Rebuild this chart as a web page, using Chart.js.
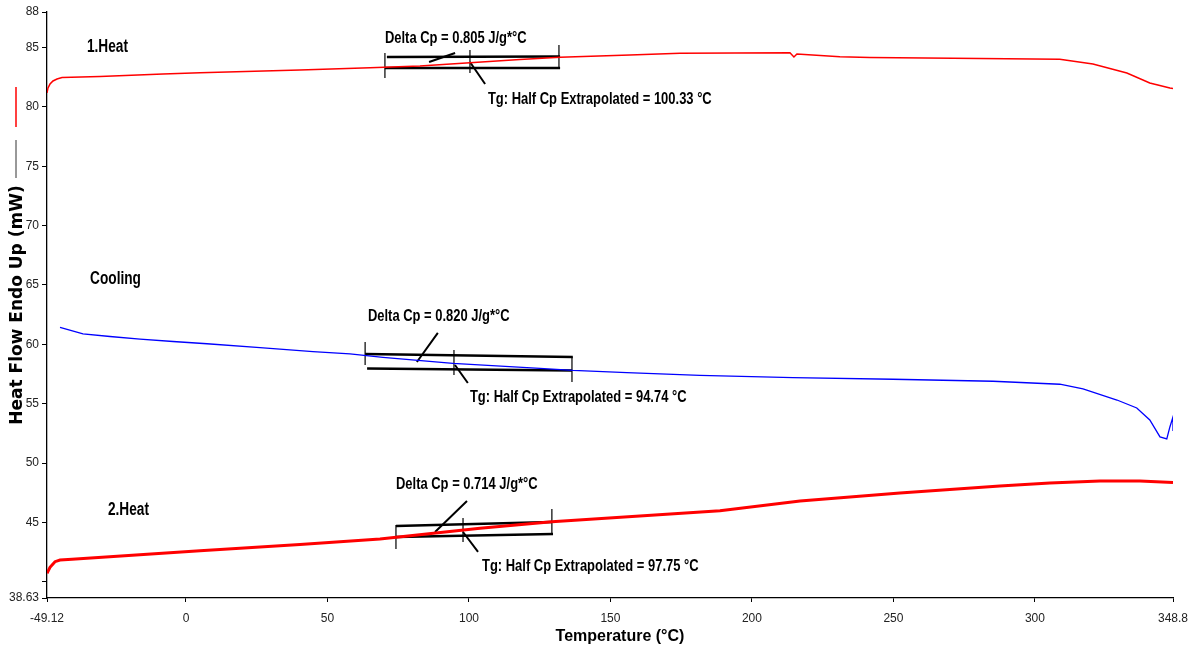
<!DOCTYPE html>
<html lang="en">
<head>
    <meta charset="UTF-8" />
    <script src="https://cdn.jsdelivr.net/npm/chart.js"></script>
    <title>DSC Heat Flow</title>
    <style>
        body { margin: 0; background: #fff; }
        canvas { display: block; }
    </style>
</head>
<body>
    <canvas id="dsc" width="1188" height="652"></canvas>

    <script>
        // temperature axis (°C) and heat flow axis (mW)
        const xMin = -49.12, xMax = 348.8;
        const yMin = 38.63, yMax = 88;
        const xTickVals = [-49.12, 0, 50, 100, 150, 200, 250, 300, 348.8];
        const yTickVals = [38.63, 40, 45, 50, 55, 60, 65, 70, 75, 80, 85, 88];

        // 1.Heat curve
        const heat1T = [-49.12, -48.76, -48.06, -47.0, -45.58, -43.82, -30.39, -8.13, 4.95, 40.28, 65.02, 82.69, 100.35, 118.02, 132.16, 156.89, 174.56, 213.43, 214.84, 215.9, 231.1, 241.7, 271.0, 308.8, 320.5, 332.5, 340.6, 347.7, 348.8];
        const heat1Y = [81.18, 81.60, 81.93, 82.19, 82.35, 82.48, 82.57, 82.78, 82.89, 83.11, 83.31, 83.45, 83.73, 84.00, 84.18, 84.38, 84.52, 84.57, 84.21, 84.46, 84.23, 84.17, 84.10, 84.02, 83.62, 82.86, 82.02, 81.60, 81.56];

        // Cooling curve
        const coolT = [-44.52, -36.4, -26.86, -16.25, -4.59, 7.42, 26.15, 44.88, 57.95, 69.61, 94.35, 125.1, 136.75, 155.8, 181.6, 214.5, 249.8, 285.2, 308.8, 317.0, 329.0, 336.0, 340.6, 344.2, 346.6, 347.7, 348.8, 348.8];
        const coolY = [61.44, 60.89, 60.66, 60.44, 60.24, 60.05, 59.72, 59.38, 59.19, 58.91, 58.40, 57.98, 57.80, 57.61, 57.39, 57.19, 57.06, 56.89, 56.64, 56.24, 55.31, 54.64, 53.63, 52.20, 52.03, 53.04, 53.88, 52.70];

        // 2.Heat curve
        const heat2T = [-49.12, -48.06, -46.29, -44.52, -40.28, 4.95, 40.28, 68.55, 103.9, 129.3, 188.7, 217.0, 252.3, 287.6, 305.3, 323.0, 337.1, 348.8];
        const heat2Y = [40.71, 41.22, 41.69, 41.83, 41.89, 42.62, 43.14, 43.60, 44.50, 45.06, 45.99, 46.80, 47.48, 48.07, 48.32, 48.49, 48.49, 48.36];

        // Tg construction lines [t1, v1, t2, v2]
        const baseLines = [
            [71.0, 84.21, 132.2, 84.25], [70.3, 83.28, 132.2, 83.28],
            [63.3, 59.19, 136.7, 58.94], [64.0, 57.97, 136.4, 57.80],
            [74.2, 44.70, 129.3, 45.03], [74.2, 43.77, 129.7, 44.02]
        ];
        const tickLines = [
            [70.3, 84.55, 70.3, 82.44], [131.8, 85.22, 131.8, 83.28], [100.35, 84.80, 100.35, 82.86],
            [63.3, 60.20, 63.3, 58.26], [136.4, 58.94, 136.4, 56.83], [94.7, 59.52, 94.7, 57.42],
            [74.2, 44.78, 74.2, 42.76], [129.3, 46.13, 129.3, 44.11], [97.9, 45.37, 97.9, 43.35]
        ];
        const pointerLines = [
            [85.9, 83.79, 95.1, 84.55], [100.35, 83.79, 105.7, 81.93],
            [81.6, 58.51, 89.0, 60.96], [95.05, 58.26, 99.6, 56.74],
            [88.0, 44.19, 99.3, 46.80], [97.9, 44.19, 103.2, 42.51]
        ];

        // texts placed in data units [t, v, text, size, squeeze]
        const notes = [
            [-35.0, 85.05, '1.Heat', 18, 0.76],
            [-33.9, 65.5, 'Cooling', 18, 0.76],
            [-27.6, 46.0, '2.Heat', 18, 0.76],
            [70.3, 85.8, 'Delta Cp = 0.805 J/g*°C', 16, 0.81],
            [106.7, 80.59, 'Tg: Half Cp Extrapolated = 100.33 °C', 16, 0.81],
            [64.3, 62.3, 'Delta Cp = 0.820 J/g*°C', 16, 0.81],
            [100.35, 55.48, 'Tg: Half Cp Extrapolated = 94.74 °C', 16, 0.81],
            [74.2, 48.15, 'Delta Cp = 0.714 J/g*°C', 16, 0.81],
            [104.6, 41.24, 'Tg: Half Cp Extrapolated = 97.75 °C', 16, 0.81]
        ];

        const sans = '"Liberation Sans", Arial, sans-serif';

        const toPoints = (xs, ys) => xs.map((x, i) => ({ x: x, y: ys[i] }));
        const segPoints = segs => {
            const pts = [];
            segs.forEach(s => {
                pts.push({ x: s[0], y: s[1] }, { x: s[2], y: s[3] }, { x: s[2], y: null });
            });
            return pts;
        };

        const curve = (data, color, width) => ({
            data: data, borderColor: color, borderWidth: width,
            pointRadius: 0, fill: false, tension: 0, spanGaps: false
        });

        const textPlugin = {
            id: 'dscText',
            afterDraw(chart) {
                const c = chart.ctx;
                const xs = chart.scales.x, ys = chart.scales.y;
                const area = chart.chartArea;
                c.save();
                c.fillStyle = '#000';
                c.textBaseline = 'middle';
                c.textAlign = 'left';
                // the original uses a condensed face, so squeeze horizontally
                notes.forEach(n => {
                    c.save();
                    c.font = 'bold ' + n[3] + 'px ' + sans;
                    c.translate(xs.getPixelForValue(n[0]), ys.getPixelForValue(n[1]));
                    c.scale(n[4], 1);
                    c.fillText(n[2], 0, 0);
                    c.restore();
                });

                // axis titles
                c.textAlign = 'center';
                c.font = 'bold 16px ' + sans;
                c.fillText('Temperature (°C)', (area.left + area.right) / 2 + 10, 637);
                c.save();
                c.font = 'bold 17px "DejaVu Sans", sans-serif';
                c.translate(18, (area.top + area.bottom) / 2);
                c.rotate(-Math.PI / 2);
                c.fillText('Heat Flow Endo Up (mW)', 0, 0);
                c.restore();

                // legend swatches
                c.lineWidth = 1.5;
                c.strokeStyle = '#ff0000';
                c.beginPath(); c.moveTo(16, 87); c.lineTo(16, 127); c.stroke();
                c.lineWidth = 1;
                c.strokeStyle = '#333';
                c.beginPath(); c.moveTo(16, 140); c.lineTo(16, 178); c.stroke();
                c.restore();
            }
        };

        new Chart(document.getElementById('dsc'), {
            type: 'line',
            data: {
                datasets: [
                    curve(toPoints(heat1T, heat1Y), '#ff0000', 1.5),
                    curve(toPoints(coolT, coolY), '#0000ff', 1.3),
                    curve(toPoints(heat2T, heat2Y), '#ff0000', 3),
                    curve(segPoints(baseLines), '#000', 2.5),
                    curve(segPoints(tickLines), '#000', 1.2),
                    curve(segPoints(pointerLines), '#000', 2)
                ]
            },
            options: {
                responsive: false,
                animation: false,
                layout: { padding: { top: 12, right: 15, left: 0, bottom: 0 } },
                plugins: {
                    legend: { display: false },
                    tooltip: { enabled: false }
                },
                scales: {
                    x: {
                        type: 'linear',
                        min: xMin,
                        max: xMax,
                        afterBuildTicks: s => { s.ticks = xTickVals.map(v => ({ value: v })); },
                        afterFit: s => { s.height = 54; s.paddingRight = 0; s.paddingLeft = 0; },
                        grid: { drawOnChartArea: false, drawTicks: true, tickLength: 4, color: '#000' },
                        border: { display: true, color: '#000', width: 1.3 },
                        ticks: {
                            maxRotation: 0,
                            autoSkip: false,
                            padding: 9,
                            color: '#222',
                            font: { size: 12, family: sans },
                            callback: v => String(v)
                        }
                    },
                    y: {
                        type: 'linear',
                        min: yMin,
                        max: yMax,
                        afterBuildTicks: s => { s.ticks = yTickVals.map(v => ({ value: v })); },
                        afterFit: s => { s.width = 47; s.paddingTop = 0; s.paddingBottom = 0; },
                        grid: { drawOnChartArea: false, drawTicks: true, tickLength: 5, color: '#000' },
                        border: { display: true, color: '#000', width: 1.3 },
                        ticks: {
                            autoSkip: false,
                            padding: 3,
                            color: '#222',
                            font: { size: 12, family: sans },
                            callback: v => (v === 40 ? '' : String(v))
                        }
                    }
                }
            },
            plugins: [textPlugin]
        });
    </script>
</body>
</html>
